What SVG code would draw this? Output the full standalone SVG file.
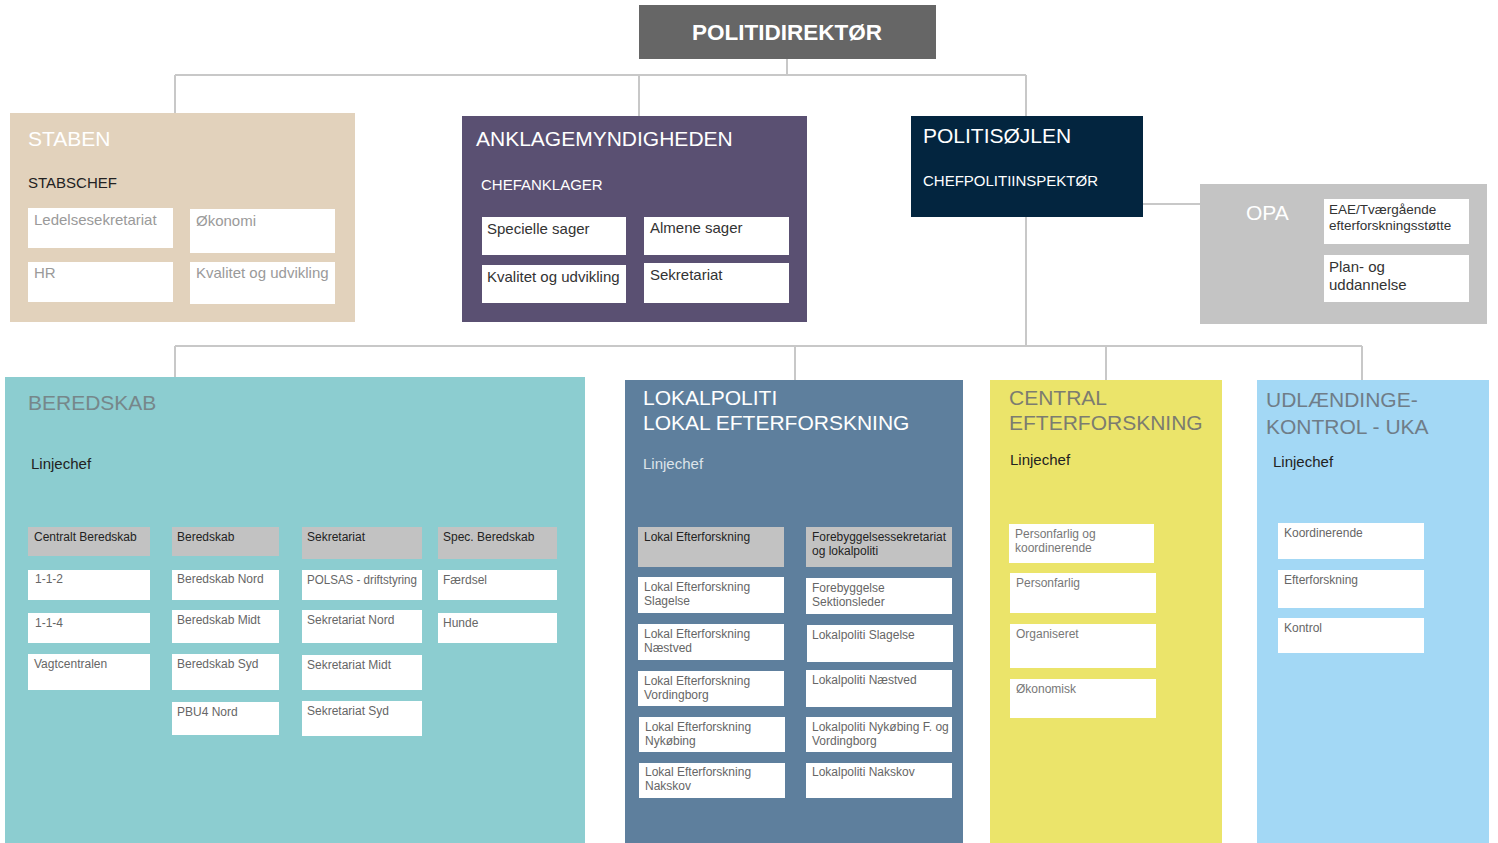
<svg xmlns="http://www.w3.org/2000/svg" width="1498" height="843" viewBox="0 0 1498 843">
<style>
text{font-family:"Liberation Sans",Arial,sans-serif}
.conn{stroke:#c8c8c8;stroke-width:2;fill:none}
.title{font-size:21px;fill:#fff}
.title.grey1{fill:#76878a}
.title.grey2{fill:#7c7c70}
.title.grey3{fill:#6f7d88}
.sub{font-size:15px}
.box{fill:#fff}
.hdr{fill:#c2c2c2}
.t15{font-size:15px}
.t12{font-size:12px}
.h12{font-size:12px;fill:#222}
</style>
<rect width="1498" height="843" fill="#fff"/>
<g id="connectors">
<path class="conn" d="M787 59V75M175 75H1026M175 75V113M639 75V116M1026 75V116"/>
<path class="conn" d="M1143 204H1200"/>
<path class="conn" d="M1026 217V346M175 346H1362M175 346V377M795 346V380M1106 346V381M1362 346V381"/>
</g>
<g id="politidirektor">
<rect x="639" y="5" width="297" height="54" fill="#666"/>
<text x="787" y="40" text-anchor="middle" font-size="22.5" font-weight="bold" fill="#fff">POLITIDIREKTØR</text>
</g>
<g id="staben">
<rect x="10" y="113" width="345" height="209" fill="#e2d2bc"/>
<text class="title" x="28" y="146">STABEN</text>
<text class="sub" x="28" y="188" fill="#222">STABSCHEF</text>
<g fill="#9a9a9a" class="t15">
<rect class="box" x="28" y="208" width="145" height="40"/><text x="34" y="225">Ledelsesekretariat</text>
<rect class="box" x="190" y="209" width="145" height="44"/><text x="196" y="226">Økonomi</text>
<rect class="box" x="28" y="262" width="145" height="40"/><text x="34" y="278">HR</text>
<rect class="box" x="190" y="262" width="145" height="42"/><text x="196" y="278">Kvalitet og udvikling</text>
</g>
</g>
<g id="anklagemyndigheden">
<rect x="462" y="116" width="345" height="206" fill="#5a5072"/>
<text class="title" x="476" y="146">ANKLAGEMYNDIGHEDEN</text>
<text class="sub" x="481" y="190" fill="#fff">CHEFANKLAGER</text>
<g fill="#333" class="t15">
<rect class="box" x="482" y="217" width="144" height="38"/><text x="487" y="234">Specielle sager</text>
<rect class="box" x="644" y="217" width="145" height="38"/><text x="650" y="233">Almene sager</text>
<rect class="box" x="482" y="265" width="144" height="38"/><text x="487" y="282">Kvalitet og udvikling</text>
<rect class="box" x="644" y="263" width="145" height="40"/><text x="650" y="280">Sekretariat</text>
</g>
</g>
<g id="politisojlen">
<rect x="911" y="116" width="232" height="101" fill="#03253f"/>
<text class="title" x="923" y="143">POLITISØJLEN</text>
<text class="sub" x="923" y="186" fill="#fff">CHEFPOLITIINSPEKTØR</text>
</g>
<g id="opa">
<rect x="1200" y="184" width="287" height="140" fill="#c4c4c4"/>
<text class="title" x="1246" y="220">OPA</text>
<rect class="box" x="1324" y="199" width="145" height="45"/>
<text x="1329" y="214" font-size="13.5" fill="#333">EAE/Tværgående</text>
<text x="1329" y="230" font-size="13.5" fill="#333">efterforskningsstøtte</text>
<rect class="box" x="1324" y="255" width="145" height="47"/>
<text x="1329" y="272" class="t15" fill="#333">Plan- og</text>
<text x="1329" y="290" class="t15" fill="#333">uddannelse</text>
</g>
<g id="beredskab">
<rect x="5" y="377" width="580" height="466" fill="#8ccdd0"/>
<text class="title grey1" x="28" y="410">BEREDSKAB</text>
<text class="sub" x="31" y="469" fill="#222">Linjechef</text>
<g class="t12" fill="#666">
<rect class="hdr" x="28" y="527" width="122" height="29"/><text class="h12" x="34" y="541">Centralt Beredskab</text>
<rect class="box" x="28" y="570" width="122" height="30"/><text x="35" y="583">1-1-2</text>
<rect class="box" x="28" y="613" width="122" height="30"/><text x="35" y="627">1-1-4</text>
<rect class="box" x="28" y="654" width="122" height="36"/><text x="34" y="668">Vagtcentralen</text>
<rect class="hdr" x="172" y="527" width="107" height="29"/><text class="h12" x="177" y="541">Beredskab</text>
<rect class="box" x="172" y="570" width="107" height="30"/><text x="177" y="583">Beredskab Nord</text>
<rect class="box" x="172" y="610" width="107" height="33"/><text x="177" y="624">Beredskab Midt</text>
<rect class="box" x="172" y="654" width="107" height="36"/><text x="177" y="668">Beredskab Syd</text>
<rect class="box" x="172" y="702" width="107" height="33"/><text x="177" y="716">PBU4 Nord</text>
<rect class="hdr" x="302" y="527" width="120" height="32"/><text class="h12" x="307" y="541">Sekretariat</text>
<rect class="box" x="302" y="570" width="120" height="30"/><text x="307" y="584" textLength="110" lengthAdjust="spacingAndGlyphs">POLSAS - driftstyring</text>
<rect class="box" x="302" y="610" width="120" height="33"/><text x="307" y="624">Sekretariat Nord</text>
<rect class="box" x="302" y="655" width="120" height="35"/><text x="307" y="669">Sekretariat Midt</text>
<rect class="box" x="302" y="701" width="120" height="35"/><text x="307" y="715">Sekretariat Syd</text>
<rect class="hdr" x="438" y="527" width="119" height="32"/><text class="h12" x="443" y="541">Spec. Beredskab</text>
<rect class="box" x="438" y="570" width="119" height="30"/><text x="443" y="584">Færdsel</text>
<rect class="box" x="438" y="613" width="119" height="30"/><text x="443" y="627">Hunde</text>
</g>
</g>
<g id="lokalpoliti">
<rect x="625" y="380" width="338" height="463" fill="#5e7f9d"/>
<text class="title" x="643" y="405">LOKALPOLITI</text>
<text class="title" x="643" y="430">LOKAL EFTERFORSKNING</text>
<text class="sub" x="643" y="469" fill="#dde4ea">Linjechef</text>
<g class="t12" fill="#666">
<rect class="hdr" x="638" y="527" width="146" height="40"/><text class="h12" x="644" y="541">Lokal Efterforskning</text>
<rect class="box" x="638" y="577" width="146" height="36"/><text x="644" y="591">Lokal Efterforskning</text><text x="644" y="605">Slagelse</text>
<rect class="box" x="638" y="624" width="146" height="36"/><text x="644" y="638">Lokal Efterforskning</text><text x="644" y="652">Næstved</text>
<rect class="box" x="638" y="671" width="146" height="35"/><text x="644" y="685">Lokal Efterforskning</text><text x="644" y="699">Vordingborg</text>
<rect class="box" x="639" y="717" width="146" height="35"/><text x="645" y="731">Lokal Efterforskning</text><text x="645" y="745">Nykøbing</text>
<rect class="box" x="639" y="763" width="146" height="35"/><text x="645" y="776">Lokal Efterforskning</text><text x="645" y="790">Nakskov</text>
<rect class="hdr" x="806" y="527" width="146" height="40"/><text class="h12" x="812" y="541" textLength="134" lengthAdjust="spacingAndGlyphs">Forebyggelsessekretariat</text><text class="h12" x="812" y="555">og lokalpoliti</text>
<rect class="box" x="806" y="578" width="146" height="36"/><text x="812" y="592">Forebyggelse</text><text x="812" y="606">Sektionsleder</text>
<rect class="box" x="807" y="625" width="146" height="37"/><text x="812" y="639">Lokalpoliti Slagelse</text>
<rect class="box" x="806" y="670" width="146" height="37"/><text x="812" y="684">Lokalpoliti Næstved</text>
<rect class="box" x="806" y="717" width="146" height="35"/><text x="812" y="731">Lokalpoliti Nykøbing F. og</text><text x="812" y="745">Vordingborg</text>
<rect class="box" x="806" y="763" width="146" height="35"/><text x="812" y="776">Lokalpoliti Nakskov</text>
</g>
</g>
<g id="central">
<rect x="990" y="380" width="232" height="463" fill="#ebe46a"/>
<text class="title grey2" x="1009" y="405">CENTRAL</text>
<text class="title grey2" x="1009" y="430">EFTERFORSKNING</text>
<text class="sub" x="1010" y="465" fill="#222">Linjechef</text>
<g class="t12" fill="#777">
<rect class="box" x="1009" y="524" width="145" height="39"/><text x="1015" y="538">Personfarlig og</text><text x="1015" y="552">koordinerende</text>
<rect class="box" x="1010" y="573" width="146" height="40"/><text x="1016" y="587">Personfarlig</text>
<rect class="box" x="1010" y="624" width="146" height="44"/><text x="1016" y="638">Organiseret</text>
<rect class="box" x="1010" y="679" width="146" height="39"/><text x="1016" y="693">Økonomisk</text>
</g>
</g>
<g id="uka">
<rect x="1257" y="380" width="232" height="463" fill="#a3d8f5"/>
<text class="title grey3" x="1266" y="407">UDLÆNDINGE-</text>
<text class="title grey3" x="1266" y="434">KONTROL - UKA</text>
<text class="sub" x="1273" y="467" fill="#222">Linjechef</text>
<g class="t12" fill="#666">
<rect class="box" x="1278" y="523" width="146" height="36"/><text x="1284" y="537">Koordinerende</text>
<rect class="box" x="1278" y="570" width="146" height="38"/><text x="1284" y="584">Efterforskning</text>
<rect class="box" x="1278" y="618" width="146" height="35"/><text x="1284" y="632">Kontrol</text>
</g>
</g>
</svg>
